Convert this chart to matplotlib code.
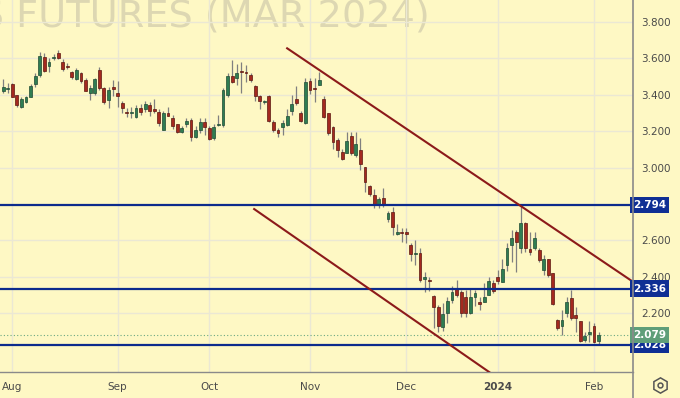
import numpy as np
import matplotlib.pyplot as plt
from matplotlib.lines import Line2D

# Daily OHLC, index 0 = first trading day of Aug 2023 (two bars before it)
first_idx = -2
opens = [3.421, 3.432, 3.456, 3.398, 3.333, 3.361, 3.388, 3.456, 3.506, 3.608,
         3.557, 3.599, 3.630, 3.580, 3.553, 3.526, 3.484, 3.517, 3.480, 3.410,
         3.407, 3.535, 3.434, 3.370, 3.440, 3.407, 3.352, 3.306, 3.301, 3.275,
         3.328, 3.319, 3.343, 3.320, 3.306, 3.206, 3.297, 3.270, 3.238, 3.196,
         3.238, 3.260, 3.169, 3.206, 3.251, 3.215, 3.160, 3.232, 3.233, 3.398,
         3.504, 3.490, 3.530, 3.526, 3.507, 3.449, 3.394, 3.358, 3.394, 3.251,
         3.206, 3.224, 3.233, 3.310, 3.376, 3.297, 3.242, 3.474, 3.437, 3.453,
         3.374, 3.297, 3.220, 3.151, 3.087, 3.081, 3.173, 3.068, 3.096, 3.001,
         2.898, 2.847, 2.794, 2.834, 2.720, 2.757, 2.634, 2.640, 2.647, 2.575,
         2.525, 2.529, 2.390, 2.383, 2.295, 2.233, 2.126, 2.200, 2.273, 2.332,
         2.318, 2.291, 2.200, 2.288, 2.263, 2.263, 2.300, 2.365, 2.401, 2.374,
         2.465, 2.575, 2.648, 2.560, 2.694, 2.553, 2.557, 2.547, 2.438, 2.496,
         2.420, 2.163, 2.130, 2.200, 2.285, 2.190, 2.158, 2.053, 2.085, 2.132,
         2.048]
highs = [3.485, 3.464, 3.462, 3.400, 3.387, 3.393, 3.460, 3.517, 3.635, 3.627,
         3.599, 3.622, 3.645, 3.596, 3.575, 3.531, 3.545, 3.526, 3.490, 3.453,
         3.490, 3.553, 3.443, 3.443, 3.480, 3.475, 3.366, 3.326, 3.330, 3.344,
         3.350, 3.366, 3.360, 3.374, 3.320, 3.310, 3.330, 3.290, 3.240, 3.225,
         3.270, 3.270, 3.225, 3.270, 3.270, 3.230, 3.240, 3.290, 3.437, 3.517,
         3.590, 3.570, 3.580, 3.562, 3.517, 3.453, 3.400, 3.370, 3.400, 3.260,
         3.215, 3.260, 3.320, 3.400, 3.449, 3.310, 3.493, 3.490, 3.490, 3.526,
         3.390, 3.300, 3.228, 3.160, 3.100, 3.197, 3.197, 3.197, 3.160, 3.004,
         2.904, 2.880, 2.840, 2.886, 2.760, 2.785, 2.690, 2.668, 2.668, 2.584,
         2.603, 2.557, 2.428, 2.400, 2.300, 2.245, 2.255, 2.288, 2.350, 2.383,
         2.330, 2.330, 2.340, 2.330, 2.288, 2.365, 2.400, 2.383, 2.440, 2.500,
         2.584, 2.657, 2.657, 2.790, 2.703, 2.644, 2.648, 2.560, 2.520, 2.500,
         2.420, 2.170, 2.218, 2.290, 2.328, 2.236, 2.160, 2.096, 2.158, 2.145,
         2.099]
lows = [3.409, 3.409, 3.385, 3.333, 3.327, 3.354, 3.385, 3.443, 3.498, 3.526,
        3.524, 3.590, 3.594, 3.530, 3.539, 3.484, 3.480, 3.462, 3.420, 3.370,
        3.400, 3.425, 3.350, 3.325, 3.390, 3.334, 3.297, 3.277, 3.270, 3.270,
        3.290, 3.306, 3.280, 3.300, 3.230, 3.206, 3.280, 3.210, 3.190, 3.190,
        3.220, 3.147, 3.160, 3.190, 3.180, 3.150, 3.150, 3.225, 3.224, 3.388,
        3.462, 3.453, 3.407, 3.471, 3.471, 3.365, 3.320, 3.350, 3.250, 3.196,
        3.169, 3.180, 3.227, 3.288, 3.343, 3.250, 3.240, 3.405, 3.361, 3.453,
        3.270, 3.180, 3.100, 3.056, 3.040, 3.078, 3.068, 3.059, 2.986, 2.867,
        2.843, 2.780, 2.776, 2.785, 2.700, 2.630, 2.630, 2.593, 2.587, 2.489,
        2.465, 2.374, 2.319, 2.324, 2.118, 2.099, 2.104, 2.145, 2.255, 2.288,
        2.180, 2.180, 2.196, 2.240, 2.218, 2.263, 2.300, 2.310, 2.360, 2.370,
        2.432, 2.483, 2.428, 2.529, 2.538, 2.520, 2.547, 2.480, 2.410, 2.400,
        2.245, 2.110, 2.081, 2.180, 2.163, 2.099, 2.044, 2.044, 2.044, 2.035,
        2.026]
closes = [3.443, 3.437, 3.388, 3.343, 3.374, 3.385, 3.449, 3.502, 3.612, 3.531,
          3.580, 3.608, 3.599, 3.539, 3.550, 3.498, 3.535, 3.476, 3.421, 3.435,
          3.484, 3.434, 3.361, 3.425, 3.430, 3.394, 3.325, 3.297, 3.305, 3.328,
          3.306, 3.348, 3.312, 3.310, 3.242, 3.297, 3.283, 3.228, 3.196, 3.215,
          3.256, 3.166, 3.206, 3.251, 3.220, 3.155, 3.224, 3.240, 3.425, 3.504,
          3.471, 3.517, 3.526, 3.519, 3.480, 3.394, 3.365, 3.363, 3.255, 3.206,
          3.188, 3.242, 3.284, 3.347, 3.352, 3.255, 3.471, 3.425, 3.432, 3.480,
          3.279, 3.188, 3.142, 3.096, 3.045, 3.147, 3.078, 3.129, 3.019, 2.922,
          2.854, 2.794, 2.825, 2.800, 2.752, 2.672, 2.645, 2.638, 2.635, 2.525,
          2.532, 2.383, 2.400, 2.377, 2.233, 2.130, 2.196, 2.266, 2.318, 2.300,
          2.200, 2.203, 2.291, 2.313, 2.250, 2.291, 2.377, 2.324, 2.380, 2.443,
          2.560, 2.615, 2.593, 2.694, 2.557, 2.538, 2.615, 2.492, 2.498, 2.410,
          2.250, 2.120, 2.163, 2.260, 2.172, 2.172, 2.048, 2.077, 2.099, 2.044,
          2.079]

month_pos = [0, 23, 43, 65, 86, 106, 127]
month_labels = ['Aug', 'Sep', 'Oct', 'Nov', 'Dec', '2024', 'Feb']
price_ticks = [2.2, 2.4, 2.6, 3.0, 3.2, 3.4, 3.6, 3.8]
levels = [2.794, 2.336, 2.028]
last_price = 2.079
# channel lines: (bar index, price) pairs
upper_channel = [(60, 3.654), (135.5, 2.373)]
lower_channel = [(52.8, 2.772), (112, 1.74)]

bg = '#fef8c4'
grid_c = '#ebe8d4'
up_c, up_edge = '#2f7d52', '#1f4a33'
dn_c, dn_edge = '#a4291f', '#5c1710'
blue = '#0c2b8c'
chan = '#8c1a1a'

fig = plt.figure(figsize=(6.8, 3.98), dpi=100, facecolor=bg)
ax = fig.add_axes([0, 26 / 398, 633 / 680, 372 / 398])
ax.set_facecolor(bg)

# watermark
ax.text(430 / 680, 1 - 26 / 398, 'NATURAL GAS FUTURES (MAR 2024)', transform=fig.transFigure,
        ha='right', va='baseline', fontsize=27.5, color='#ddd7b2', zorder=0)

x = np.arange(first_idx, first_idx + len(opens))
o = np.array(opens); h = np.array(highs); l = np.array(lows); c = np.array(closes)
up = c >= o

ax.vlines(x, l, h, color='#808080', lw=0.9, zorder=3)
body = np.where(np.abs(c - o) < 0.004, 0.004, c - o)
ax.bar(x[up], body[up], bottom=o[up], width=0.62, color=up_c, edgecolor=up_edge, lw=0.5, zorder=4)
ax.bar(x[~up], body[~up], bottom=o[~up], width=0.62, color=dn_c, edgecolor=dn_edge, lw=0.5, zorder=4)

# horizontal levels
for lv in levels:
    ax.axhline(lv, color=blue, lw=1.6, zorder=5)
    ax.text(1.0, lv, f'{lv:.3f}', transform=ax.get_yaxis_transform(), ha='left', va='center',
            color='white', fontsize=7.5, fontweight='bold', clip_on=False, zorder=10,
            bbox=dict(boxstyle='square,pad=0.3', fc='#0f2f94', ec='none'))
ax.axhline(last_price, color='#6aa882', lw=0.8, ls=(0, (1, 2)), zorder=2)
ax.text(1.0, last_price, f'{last_price:.3f}', transform=ax.get_yaxis_transform(), ha='left', va='center',
        color='white', fontsize=7.5, fontweight='bold', clip_on=False, zorder=10,
        bbox=dict(boxstyle='square,pad=0.3', fc='#5f9e79', ec='none'))

# trend channel
for seg in (upper_channel, lower_channel):
    ax.plot([seg[0][0], seg[1][0]], [seg[0][1], seg[1][1]], color=chan, lw=1.5, zorder=5)

ax.set_xlim(-2.686, 135.5)
ax.set_ylim(1.878, 3.919)

ax.set_xticks(month_pos)
ax.set_xticklabels(month_labels)
for lab in ax.get_xticklabels():
    if lab.get_text() == '2024':
        lab.set_fontweight('bold')
ax.yaxis.tick_right()
ax.set_yticks(price_ticks)
ax.set_yticklabels([f'{p:.3f}' for p in price_ticks])
ax.tick_params(axis='both', length=0, labelsize=7.5, colors='#4a4a4a')
ax.tick_params(axis='x', pad=7)
ax.tick_params(axis='y', pad=6)

ax.grid(True, color=grid_c, lw=1.0, zorder=0)
ax.set_axisbelow(True)
for s in ['top', 'left', 'right']:
    ax.spines[s].set_visible(False)
ax.spines['bottom'].set_color('#8a8a8a')
ax.spines['bottom'].set_linewidth(1.0)

# right price-scale border and settings icon
fig.add_artist(Line2D([633 / 680, 633 / 680], [0, 1], color='#8a8a8a', lw=1.2))
fig.add_artist(Line2D([660 / 680], [1 - 385 / 398], marker='h', ms=11, mfc='none', mec='#555555', mew=1.1))
fig.add_artist(Line2D([660 / 680], [1 - 385 / 398], marker='o', ms=3.5, mfc='none', mec='#555555', mew=1.1))

fig.savefig('out.png', dpi=100, facecolor=bg)
